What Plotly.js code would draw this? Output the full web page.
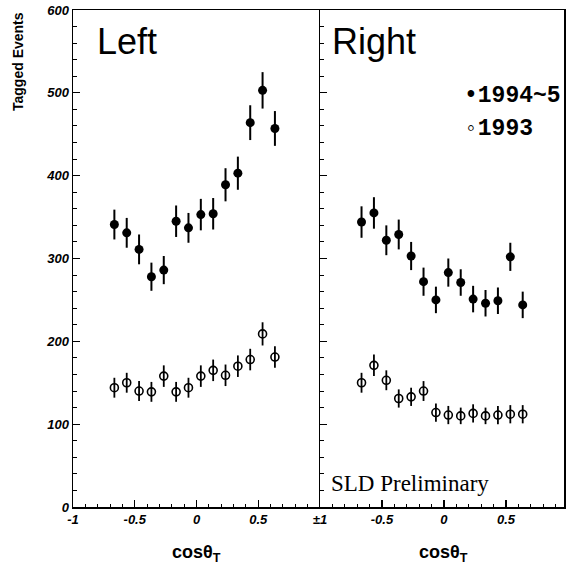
<!DOCTYPE html>
<html>
<head>
<meta charset="utf-8">
<script src="https://cdn.plot.ly/plotly-3.0.1.min.js"></script>
<style>html,body{margin:0;padding:0;background:#fff;}#chart{width:568px;height:574px;}</style>
</head>
<body>
<div id="chart"></div>
<script>
// bin centres in cos(theta_T)
var cosBins = [-0.665, -0.565, -0.465, -0.365, -0.265, -0.165, -0.065, 0.035, 0.135, 0.235, 0.335, 0.435, 0.535, 0.635];

// Left hemisphere
var left9495 = [341, 331, 311, 278, 286, 345, 337, 353, 354, 389, 403, 464, 503, 457];
var left9495Err = [18, 18, 18, 17, 17, 19, 18, 19, 19, 20, 20, 21, 22, 21];
var left93 = [144, 150, 140, 139, 158, 139, 144, 158, 165, 159, 170, 178, 209, 181];
var left93Err = [12, 12, 12, 12, 13, 12, 12, 13, 13, 13, 13, 13, 14, 13];

// Right hemisphere
var right9495 = [344, 355, 322, 329, 303, 272, 250, 283, 271, 251, 246, 249, 302, 244];
var right9495Err = [19, 19, 18, 18, 17, 17, 16, 17, 16, 16, 16, 16, 17, 16];
var right93 = [150, 171, 153, 131, 133, 140, 114, 111, 110, 113, 110, 111, 112, 112];
var right93Err = [12, 13, 12, 11, 11, 12, 11, 11, 10, 11, 10, 11, 11, 11];

var leftTickVals = [-1, -0.5, 0, 0.5, 1];
var leftTickText = ['-1', '-0.5', '0', '0.5', '\u00b11'];
var rightTickVals = [-0.5, 0, 0.5];
var rightTickText = ['-0.5', '0', '0.5'];

function filled(x, y, e, xa) {
  return {x: x, y: y, xaxis: xa, yaxis: xa === 'x' ? 'y' : 'y2', type: 'scatter', mode: 'markers',
    marker: {symbol: 'circle', size: 9, color: '#000'},
    error_y: {type: 'data', array: e, visible: true, color: '#000', thickness: 2, width: 0},
    showlegend: false, hoverinfo: 'x+y'};
}
function open(x, y, e, xa) {
  return {x: x, y: y, xaxis: xa, yaxis: xa === 'x' ? 'y' : 'y2', type: 'scatter', mode: 'markers',
    marker: {symbol: 'circle-open', size: 8, color: '#000', line: {width: 1.6, color: '#000'}},
    error_y: {type: 'data', array: e, visible: true, color: '#000', thickness: 1.8, width: 0},
    showlegend: false, hoverinfo: 'x+y'};
}

var data = [
  open(cosBins, left93, left93Err, 'x'),
  filled(cosBins, left9495, left9495Err, 'x'),
  open(cosBins, right93, right93Err, 'x2'),
  filled(cosBins, right9495, right9495Err, 'x2')
];

var tickFont = {family: 'Liberation Sans, Arial, sans-serif', size: 13, weight: 'bold', style: 'italic', color: '#000'};
var minorX = {tickmode: 'linear', tick0: 0, dtick: 0.1, ticks: 'inside', ticklen: 3, tickwidth: 1, tickcolor: '#000'};
var minorY = {tickmode: 'linear', tick0: 0, dtick: 20, ticks: 'inside', ticklen: 4, tickwidth: 1, tickcolor: '#000'};

var split = 247 / 491;

var layout = {
  width: 568, height: 574,
  margin: {l: 73, r: 4, t: 10, b: 67},
  paper_bgcolor: '#fff', plot_bgcolor: '#fff',
  showlegend: false,
  xaxis: {domain: [0, split], range: [-1, 1], tickmode: 'array', tickvals: leftTickVals, ticktext: leftTickText,
    ticks: 'inside', ticklen: 7, tickwidth: 1.2, tickcolor: '#000', showgrid: false, zeroline: false,
    showline: true, linecolor: '#000', linewidth: 1.5, mirror: true, tickfont: tickFont, minor: minorX, anchor: 'y'},
  xaxis2: {domain: [split, 1], range: [-1, 0.968], tickmode: 'array', tickvals: rightTickVals, ticktext: rightTickText,
    ticks: 'inside', ticklen: 7, tickwidth: 1.2, tickcolor: '#000', showgrid: false, zeroline: false,
    showline: true, linecolor: '#000', linewidth: 1.5, mirror: true, tickfont: tickFont, minor: minorX, anchor: 'y2'},
  yaxis: {domain: [0, 1], range: [0, 600], tickmode: 'linear', tick0: 0, dtick: 100,
    ticks: 'inside', ticklen: 7, tickwidth: 1.2, tickcolor: '#000', showgrid: false, zeroline: false,
    showline: true, linecolor: '#000', linewidth: 1.5, mirror: false, tickfont: tickFont, minor: minorY, anchor: 'x'},
  yaxis2: {domain: [0, 1], range: [0, 600], tickmode: 'linear', tick0: 0, dtick: 100,
    ticks: 'inside', ticklen: 7, tickwidth: 1.2, tickcolor: '#000', showgrid: false, zeroline: false,
    showticklabels: false, showline: true, linecolor: '#000', linewidth: 1.5, mirror: true, minor: minorY, anchor: 'x2'},
  annotations: [
    {text: 'Tagged Events', textangle: -90, xref: 'paper', yref: 'paper', x: (18 - 73) / 491, y: (507 - 62) / 497,
      xanchor: 'center', yanchor: 'middle', showarrow: false,
      font: {family: 'Liberation Sans, Arial, sans-serif', size: 14, weight: 'bold', color: '#000'}},
    {text: 'cos\u03b8<sub>T</sub>', xref: 'x', yref: 'paper', x: 0, y: (507 - 553) / 497,
      xanchor: 'center', yanchor: 'middle', showarrow: false,
      font: {family: 'Liberation Sans, Arial, sans-serif', size: 18, weight: 'bold', color: '#000'}},
    {text: 'cos\u03b8<sub>T</sub>', xref: 'x2', yref: 'paper', x: 0, y: (507 - 553) / 497,
      xanchor: 'center', yanchor: 'middle', showarrow: false,
      font: {family: 'Liberation Sans, Arial, sans-serif', size: 18, weight: 'bold', color: '#000'}},
    {text: 'Left', xref: 'paper', yref: 'paper', x: (95 - 73) / 491, y: (507 - 42) / 497,
      xanchor: 'left', yanchor: 'middle', showarrow: false,
      font: {family: 'Liberation Sans, Arial, sans-serif', size: 36, color: '#000'}},
    {text: 'Right', xref: 'paper', yref: 'paper', x: (330 - 73) / 491, y: (507 - 42) / 497,
      xanchor: 'left', yanchor: 'middle', showarrow: false,
      font: {family: 'Liberation Sans, Arial, sans-serif', size: 36, color: '#000'}},
    {text: '\u20221994~5', xref: 'paper', yref: 'paper', x: (462 - 73) / 491, y: (507 - 96) / 497,
      xanchor: 'left', yanchor: 'middle', showarrow: false,
      font: {family: 'Liberation Mono, Courier New, monospace', size: 23, weight: 'bold', color: '#000'}},
    {text: '\u25e61993', xref: 'paper', yref: 'paper', x: (462 - 73) / 491, y: (507 - 129) / 497,
      xanchor: 'left', yanchor: 'middle', showarrow: false,
      font: {family: 'Liberation Mono, Courier New, monospace', size: 23, weight: 'bold', color: '#000'}},
    {text: 'SLD Preliminary', xref: 'paper', yref: 'paper', x: (329 - 73) / 491, y: (507 - 483) / 497,
      xanchor: 'left', yanchor: 'middle', showarrow: false,
      font: {family: 'Liberation Serif, Times New Roman, serif', size: 23, color: '#000'}}
  ]
};

Plotly.newPlot('chart', data, layout, {displayModeBar: false, staticPlot: true});
</script>
</body>
</html>
